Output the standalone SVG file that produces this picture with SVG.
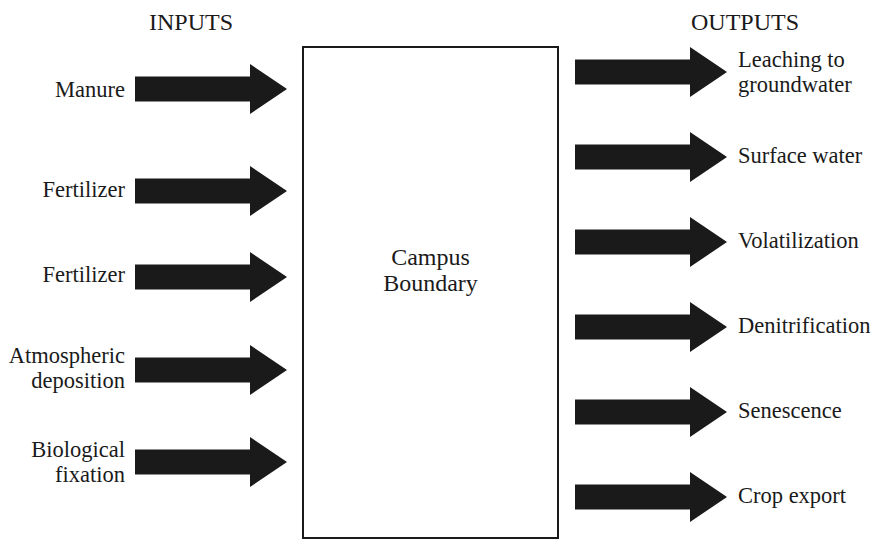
<svg xmlns="http://www.w3.org/2000/svg" xmlns:xlink="http://www.w3.org/1999/xlink" width="877" height="541" viewBox="0 0 877 541">
  <style>
    text { font-family: 'Liberation Serif', 'Times New Roman', serif; font-size: 22.5px; fill: #1a1a1a; }
    .head { text-anchor: middle; font-size: 24px; }
    .in { text-anchor: end; }
    .out { text-anchor: start; }
    .mid { text-anchor: middle; font-size: 24px; }
    .box { fill: #ffffff; stroke: #1a1a1a; stroke-width: 2; }
    .flow { fill: #1a1a1a; }
  </style>
  <defs>
    <!-- block arrow, origin at shaft start, centre line y=0 -->
    <path id="blockArrow" class="flow" d="M0,-12.5 H115 V-25 L152,0 L115,25 V12.5 H0 Z"/>
  </defs>
  <rect width="877" height="541" fill="#ffffff"/>

  <text class="head" x="191" y="30">INPUTS</text>
  <text class="head" x="745" y="30">OUTPUTS</text>

  <g id="campus-boundary">
    <rect class="box" x="303" y="47" width="255" height="491"/>
    <text class="mid" x="430.5" y="265">Campus</text>
    <text class="mid" x="430.5" y="291">Boundary</text>
  </g>

  <g id="connectors">
    <use xlink:href="#blockArrow" x="135" y="89"/>
    <use xlink:href="#blockArrow" x="135" y="191"/>
    <use xlink:href="#blockArrow" x="135" y="277"/>
    <use xlink:href="#blockArrow" x="135" y="370"/>
    <use xlink:href="#blockArrow" x="135" y="462"/>
    <use xlink:href="#blockArrow" x="575" y="72"/>
    <use xlink:href="#blockArrow" x="575" y="157"/>
    <use xlink:href="#blockArrow" x="575" y="242"/>
    <use xlink:href="#blockArrow" x="575" y="327"/>
    <use xlink:href="#blockArrow" x="575" y="412"/>
    <use xlink:href="#blockArrow" x="575" y="497"/>
  </g>

  <g id="in-manure"><text class="in" x="125" y="97">Manure</text></g>
  <g id="in-fertilizer-1"><text class="in" x="125" y="197">Fertilizer</text></g>
  <g id="in-fertilizer-2"><text class="in" x="125" y="282">Fertilizer</text></g>
  <g id="in-atmospheric">
    <text class="in" x="125" y="363">Atmospheric</text>
    <text class="in" x="125" y="388">deposition</text>
  </g>
  <g id="in-biological">
    <text class="in" x="125" y="457">Biological</text>
    <text class="in" x="125" y="482">fixation</text>
  </g>

  <g id="out-leaching">
    <text class="out" x="738" y="67">Leaching to</text>
    <text class="out" x="738" y="92">groundwater</text>
  </g>
  <g id="out-surface"><text class="out" x="738" y="163">Surface water</text></g>
  <g id="out-volatilization"><text class="out" x="738" y="248">Volatilization</text></g>
  <g id="out-denitrification"><text class="out" x="738" y="333">Denitrification</text></g>
  <g id="out-senescence"><text class="out" x="738" y="418">Senescence</text></g>
  <g id="out-crop"><text class="out" x="738" y="503">Crop export</text></g>
</svg>
